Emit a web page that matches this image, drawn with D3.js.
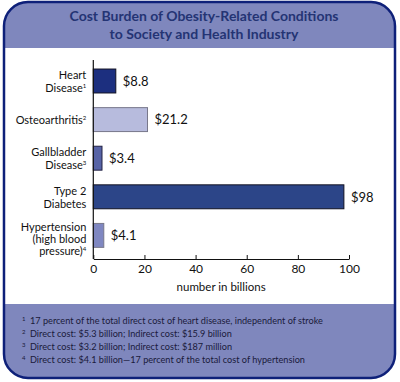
<!DOCTYPE html>
<html>
<head>
<meta charset="utf-8">
<script src="https://cdn.jsdelivr.net/npm/d3@7"></script>
<style>
  html, body { margin: 0; padding: 0; background: #ffffff; }
  svg { display: block; }
  text { font-family: Lato, "Open Sans", sans-serif; }
</style>
</head>
<body>
<svg id="chart" width="400" height="382"></svg>
<script>
// ---- data ----
const titleLines = ["Cost Burden of Obesity-Related Conditions", "to Society and Health Industry"];
const categories = ["Heart Disease", "Osteoarthritis", "Gallbladder Disease", "Type 2 Diabetes", "Hypertension (high blood pressure)"];
const categoryLines = [["Heart", "Disease"], ["Osteoarthritis"], ["Gallbladder", "Disease"], ["Type 2", "Diabetes"], ["Hypertension", "(high blood", "pressure)"]];
const footnoteMarks = ["1", "2", "3", "", "4"];
const values = [8.8, 21.2, 3.4, 98, 4.1];
const valueLabels = ["$8.8", "$21.2", "$3.4", "$98", "$4.1"];
const barColors = ["#1c2f7f", "#b7bbdd", "#5763a6", "#2c4588", "#7f87c1"];
const barStrokes = ["#111122", "#77778a", "#222244", "#111122", "#77778a"];
const xTicks = [0, 20, 40, 60, 80, 100];
const xTitle = "number in billions";
const footnoteNums = ["1", "2", "3", "4"];
const footnotes = [
  "17 percent of the total direct cost of heart disease, independent of stroke",
  "Direct cost: $5.3 billion; Indirect cost: $15.9 billion",
  "Direct cost: $3.2 billion; Indirect cost: $187 million",
  "Direct cost: $4.1 billion\u201417 percent of the total cost of hypertension"
];

// ---- frame ----
const svg = d3.select("#chart");
const navy = "#0e2079";
const band = "#7f87bd";
svg.append("rect").attr("x", 4).attr("y", 2).attr("width", 391).attr("height", 376)
  .attr("rx", 24).attr("ry", 24).attr("fill", band);
svg.append("rect").attr("x", 5).attr("y", 48).attr("width", 389).attr("height", 256).attr("fill", "#ffffff");
svg.append("rect").attr("x", 4).attr("y", 2).attr("width", 391).attr("height", 376)
  .attr("rx", 24).attr("ry", 24).attr("fill", "none").attr("stroke", navy).attr("stroke-width", 2.5);

// title
svg.append("g").selectAll("text").data(titleLines).join("text")
  .attr("x", 204).attr("y", (d, i) => 20.7 + i * 18.6)
  .attr("text-anchor", "middle")
  .attr("font-size", 14).attr("font-weight", "bold").attr("fill", "#243474")
  .text(d => d);

// ---- scales ----
const x = d3.scaleLinear().domain([0, 100]).range([93.3, 349]);
const y = d3.scaleBand().domain(categories).range([61.7, 254.7]).paddingInner(0.38).paddingOuter(0.19);
const axisY = 259;

// bars
svg.append("g").selectAll("rect").data(categories).join("rect")
  .attr("x", x(0))
  .attr("y", d => y(d))
  .attr("width", (d, i) => x(values[i]) - x(0))
  .attr("height", y.bandwidth())
  .attr("fill", (d, i) => barColors[i])
  .attr("stroke", (d, i) => barStrokes[i])
  .attr("stroke-width", 1);

// value labels
svg.append("g").selectAll("text").data(categories).join("text")
  .attr("x", (d, i) => x(values[i]) + 7)
  .attr("y", d => y(d) + y.bandwidth() / 2 + 4.8)
  .attr("font-size", 13).attr("fill", "#111")
  .text((d, i) => valueLabels[i]);

// category labels
const catG = svg.append("g");
categories.forEach((c, i) => {
  const lines = categoryLines[i];
  const n = lines.length;
  const cy = y(c) + y.bandwidth() / 2;
  const sp = n === 3 ? 11.8 : 13;
  const first = n === 3 ? cy - 4.5 : cy + 4.3 - (n - 1) * sp / 2;
  const t = catG.append("text").attr("text-anchor", "end").attr("font-size", 11).attr("fill", "#111");
  lines.forEach((ln, j) => {
    const ts = t.append("tspan").attr("x", x(0) - 7).attr("y", first + j * sp).text(ln);
    if (j === n - 1 && footnoteMarks[i]) {
      ts.append("tspan").attr("font-size", 6).attr("dy", -4).text(footnoteMarks[i]);
    }
  });
});

// axes
svg.append("line").attr("x1", x(0)).attr("x2", x(0)).attr("y1", 60).attr("y2", axisY)
  .attr("stroke", "#111").attr("stroke-width", 1.2);
const xAxis = d3.axisBottom(x).tickValues(xTicks).tickSizeInner(-4).tickSizeOuter(0).tickPadding(5);
const gx = svg.append("g").attr("transform", `translate(0,${axisY})`).call(xAxis);
gx.select(".domain").attr("stroke", "#111").attr("stroke-width", 1.2);
gx.selectAll(".tick line").attr("stroke", "#111");
gx.selectAll(".tick text").attr("font-family", "Lato, sans-serif").attr("font-size", 12).attr("fill", "#111");

svg.append("text").attr("x", (x(0) + x(100)) / 2).attr("y", 291)
  .attr("text-anchor", "middle").attr("font-size", 11.5).attr("fill", "#111").text(xTitle);

// footnotes
const fg = svg.append("g");
footnotes.forEach((f, i) => {
  const by = 324.3 + i * 13;
  fg.append("text").attr("x", 22).attr("y", by - 3.5).attr("font-size", 6).attr("fill", "#1a1a3a").text(footnoteNums[i]);
  const t = fg.append("text").attr("x", 30).attr("y", by).attr("font-size", 10).attr("fill", "#1a1a3a").text(f);
  const w = t.node().getComputedTextLength();
  t.attr("textLength", w * 0.915).attr("lengthAdjust", "spacingAndGlyphs");
});
</script>
</body>
</html>
